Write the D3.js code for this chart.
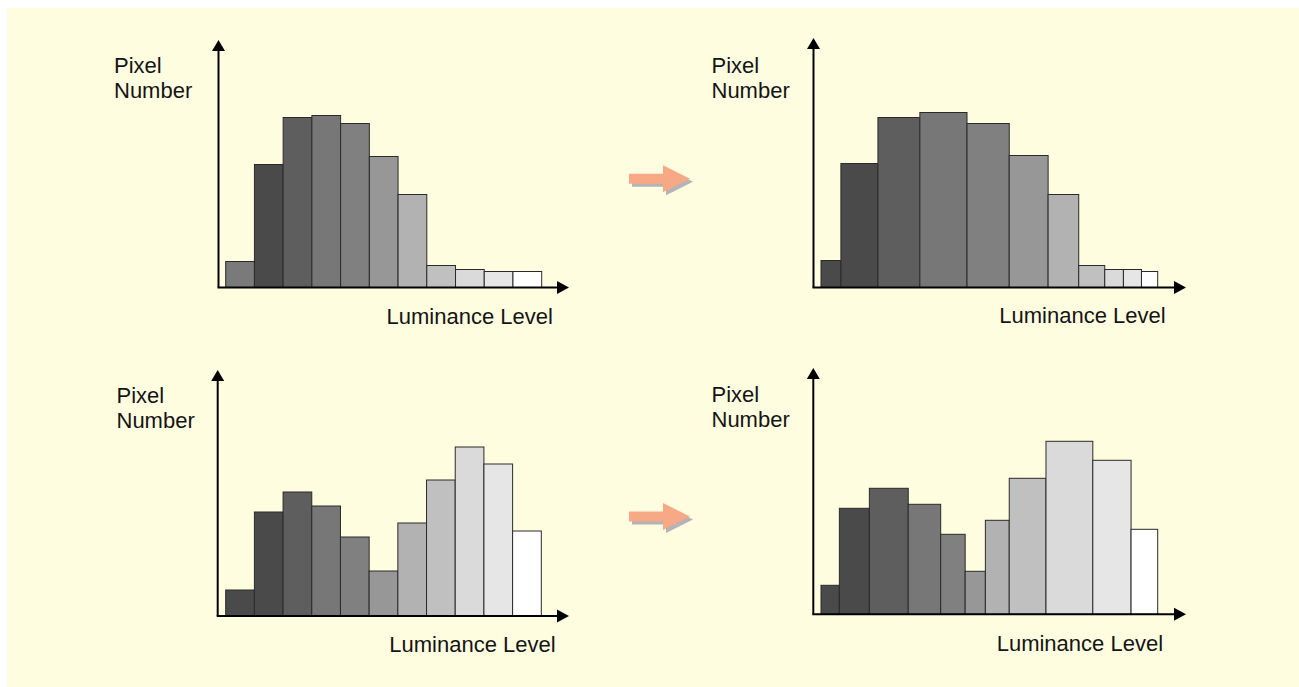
<!DOCTYPE html>
<html>
<head>
<meta charset="utf-8">
<script src="https://cdn.jsdelivr.net/npm/d3@7"></script>
<style>
  body { margin: 0; background: #fff; }
  text { font-family: "Liberation Sans", Arial, Helvetica, sans-serif; font-size: 22px; fill: #141414; }
</style>
</head>
<body>
<svg id="canvas" width="1299" height="687"></svg>
<script>
// bin edges on the luminance axis (0..11), one more than bins
let edgesUniform = [0, 1, 2, 3, 4, 5, 6, 7, 8, 9, 10, 11]
let edgesEqTop = [0, 0.65, 1.86, 3.23, 4.77, 6.15, 7.42, 8.42, 9.27, 9.88, 10.47, 11]
let edgesEqBottom = [0, 0.6, 1.58, 2.85, 3.91, 4.71, 5.37, 6.15, 7.35, 8.88, 10.13, 11]

// pixel counts per bin
let countsTopBefore = [26, 123, 170, 172, 164, 131, 93, 22, 18, 16, 16]
let countsTopAfter = [27, 124, 170, 175, 164, 132, 93, 22, 18, 18, 16]
let countsBottomBefore = [26, 104, 124, 110, 79, 45, 93, 136, 169, 152, 85]
let countsBottomAfter = [29, 106, 126, 110, 80, 43, 94, 136, 173, 154, 85]

// grey level of each bin (0-255)
let greysTopBefore = [122, 74, 94, 119, 128, 151, 178, 192, 218, 230, 255]
let greysOther = [74, 74, 94, 119, 128, 151, 178, 192, 218, 230, 255]

let yLabel = ['Pixel', 'Number']
let xLabel = 'Luminance Level'

let canvas = d3.select('#canvas')

// yellow panel
canvas.append('rect')
    .attr('x', 7).attr('y', 8)
    .attr('width', 1299).attr('height', 687)
    .attr('fill', '#fffde0')

let arrowHead = (x, y, dir) => {
    // dir: 'up' or 'right', (x,y) is the tip
    if (dir === 'up') {
        return [[x, y], [x - 6.5, y + 11], [x + 6.5, y + 11]]
    }
    return [[x, y], [x - 12, y - 6.5], [x - 12, y + 6.5]]
}

let drawHist = (p) => {
    let g = canvas.append('g')

    let x = d3.scaleLinear().domain([0, 11]).range([p.barX0, p.barX1])
    let y = d3.scaleLinear().domain([0, 200]).range([p.baseY, p.baseY - 200])

    let bins = p.counts.map((c, i) => ({ x0: p.edges[i], x1: p.edges[i + 1], count: c, grey: p.greys[i] }))

    g.selectAll('rect.bar')
        .data(bins)
        .enter()
        .append('rect')
        .attr('class', 'bar')
        .attr('x', (d) => x(d.x0))
        .attr('width', (d) => x(d.x1) - x(d.x0))
        .attr('y', (d) => y(d.count))
        .attr('height', (d) => y(0) - y(d.count))
        .attr('fill', (d) => d3.rgb(d.grey, d.grey, d.grey))
        .attr('stroke', '#2a2a2a')
        .attr('stroke-width', 1)

    // axes
    g.append('line')
        .attr('x1', p.axisX).attr('y1', p.baseY)
        .attr('x2', p.axisX).attr('y2', p.topY + 8)
        .attr('stroke', '#000').attr('stroke-width', 2)
    g.append('line')
        .attr('x1', p.axisX - 1).attr('y1', p.baseY)
        .attr('x2', p.rightX - 8).attr('y2', p.baseY)
        .attr('stroke', '#000').attr('stroke-width', 2)
    g.append('polygon')
        .attr('points', arrowHead(p.axisX, p.topY, 'up').join(' '))
        .attr('fill', '#000')
    g.append('polygon')
        .attr('points', arrowHead(p.rightX, p.baseY, 'right').join(' '))
        .attr('fill', '#000')

    g.selectAll('text.ylab')
        .data(yLabel)
        .enter()
        .append('text')
        .attr('class', 'ylab')
        .attr('x', p.labX)
        .attr('y', (d, i) => p.labY + i * 25)
        .text((d) => d)

    g.append('text')
        .attr('x', p.xLabX)
        .attr('y', p.xLabY)
        .text(xLabel)
}

drawHist({ edges: edgesUniform, counts: countsTopBefore, greys: greysTopBefore,
    barX0: 225.7, barX1: 541.7, axisX: 218.5, baseY: 287.5, topY: 40, rightX: 569,
    labX: 114, labY: 72.7, xLabX: 386.5, xLabY: 324 })
drawHist({ edges: edgesEqTop, counts: countsTopAfter, greys: greysOther,
    barX0: 821, barX1: 1157.7, axisX: 813.5, baseY: 287.5, topY: 38, rightX: 1186,
    labX: 711.5, labY: 72.7, xLabX: 999.3, xLabY: 323.3 })
drawHist({ edges: edgesUniform, counts: countsBottomBefore, greys: greysOther,
    barX0: 225.7, barX1: 541.3, axisX: 217.7, baseY: 616, topY: 370, rightX: 569,
    labX: 116.5, labY: 402.7, xLabX: 389.3, xLabY: 652.3 })
drawHist({ edges: edgesEqBottom, counts: countsBottomAfter, greys: greysOther,
    barX0: 821, barX1: 1157.7, axisX: 813.3, baseY: 614.3, topY: 368, rightX: 1186,
    labX: 711.5, labY: 401.5, xLabX: 996.7, xLabY: 650.7 })

// transform arrows between the columns
let bigArrow = (cx, cy) => [
    [cx, cy - 5], [cx + 34, cy - 5], [cx + 34, cy - 13.5], [cx + 61, cy],
    [cx + 34, cy + 13.5], [cx + 34, cy + 5], [cx, cy + 5]
]
;[178.7, 516.5].forEach((cy) => {
    canvas.append('polygon')
        .attr('points', bigArrow(632, cy + 3).join(' '))
        .attr('fill', '#b4b3b6')
    canvas.append('polygon')
        .attr('points', bigArrow(629, cy).join(' '))
        .attr('fill', '#f7a985')
})
</script>
</body>
</html>
